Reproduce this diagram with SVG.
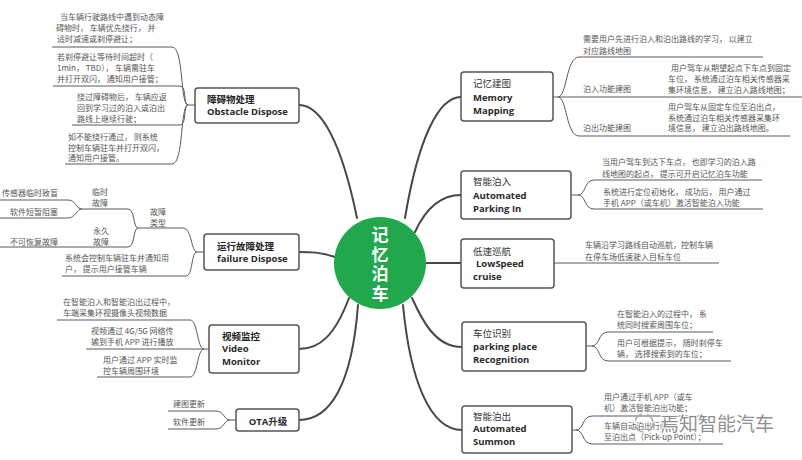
<svg xmlns="http://www.w3.org/2000/svg" width="802" height="460" viewBox="0 0 802 460">
<style>
.bg{fill:#ffffff}
.box{fill:#ffffff;stroke:#565656;stroke-width:1.5}
.main{fill:none;stroke:#474747;stroke-width:2;stroke-linecap:round}
.sub{fill:none;stroke:#5a5a5a;stroke-width:1}
.tc{font-family:"Noto Sans CJK SC","Liberation Sans",sans-serif;font-size:9.5px;fill:#333}
.tcb{font-family:"Noto Sans CJK SC","Liberation Sans",sans-serif;font-size:9.5px;fill:#222;font-weight:bold}
.te{font-family:"Open Sans","Liberation Sans","Noto Sans CJK SC",sans-serif;font-size:9.5px;font-weight:bold;fill:#2a2a2a}
.d{font-family:"Noto Sans CJK SC","Liberation Sans",sans-serif;font-size:8px;fill:#555}
.ctr{font-family:"Noto Sans CJK SC",sans-serif;font-size:17px;font-weight:bold;fill:#ffffff;writing-mode:vertical-rl;letter-spacing:2.5px}
.wm{font-family:"Noto Sans CJK SC",sans-serif;font-size:19px;fill:#858585;stroke:#ffffff;stroke-width:2.5px;paint-order:stroke;opacity:0.9}
</style>
<rect class="bg" x="0" y="0" width="802" height="460"/>

<g id="connectors">
  <path class="main" d="M299,105 C322,105 342,145 357,218"/>
  <path class="main" d="M461,97 C438,97 418,140 405,218"/>
  <path class="main" d="M461,195 C440,195 425,210 415,232"/>
  <path class="main" d="M425,263 L461,263"/>
  <path class="main" d="M412,298 C422,320 435,347 462,347"/>
  <path class="main" d="M403,305 C410,380 430,430 462,430"/>
  <path class="main" d="M335,257 C320,252 310,252 299,252"/>
  <path class="main" d="M349,298 C335,335 320,349 299,349"/>
  <path class="main" d="M358,305 C352,385 330,420 299,420"/>
  <path class="sub" d="M553,97 L802,97"/>
  <path class="sub" d="M558,97 C567,97 566,57 579,57 L763,57"/>
  <path class="sub" d="M558,97 C567,97 566,136 579,136 L790,136"/>
  <path class="sub" d="M571,195 L578,195 C586,195 584,180 594,180 L762,180"/>
  <path class="sub" d="M578,195 C586,195 584,209 594,209 L763,209"/>
  <path class="sub" d="M554,263 L719,263"/>
  <path class="sub" d="M586,346 L592,346 C600,346 598,332 608,332 L713,332"/>
  <path class="sub" d="M592,346 C600,346 598,361 608,361 L731,361"/>
  <path class="sub" d="M572,430 L576,430 C584,430 582,416 592,416 L705,416"/>
  <path class="sub" d="M576,430 C584,430 582,444 592,444 L723,444"/>
  <path class="sub" d="M195,105 L188,105"/>
  <path class="sub" d="M188,105 C180,105 184,47 172,47 L52,47"/>
  <path class="sub" d="M188,105 C183,105 187,86 180,86 L53,86"/>
  <path class="sub" d="M188,105 C183,105 187,125 180,125 L72,125"/>
  <path class="sub" d="M188,105 C180,105 184,164 172,164 L65,164"/>
  <path class="sub" d="M204,252 L197,252"/>
  <path class="sub" d="M197,252 C191,252 192,228 183,228 L138,228"/>
  <path class="sub" d="M197,252 C191,252 193,276 186,276 L62,276"/>
  <path class="sub" d="M138,228 C133,228 135,209 128,209 L82,209"/>
  <path class="sub" d="M138,228 C133,228 135,247 128,247 L0,247"/>
  <path class="sub" d="M82,209 C76,209 76,200 68,200 L0,200"/>
  <path class="sub" d="M82,209 C76,209 76,218 68,218 L0,218"/>
  <path class="sub" d="M209,349 L86,349"/>
  <path class="sub" d="M204,349 C197,349 198,320 190,320 L57,320"/>
  <path class="sub" d="M204,349 C197,349 198,377 190,377 L97,377"/>
  <path class="sub" d="M236,420 L230,420"/>
  <path class="sub" d="M230,420 C224,420 224,411 216,411 L168,411"/>
  <path class="sub" d="M230,420 C224,420 224,429 216,429 L168,429"/>
</g>

<g id="node-center">
  <circle cx="380" cy="263" r="46" fill="#21a84d"/>
  <text class="ctr" x="380" y="226.5">记忆泊车</text>
</g>

<g id="node-memory">
  <rect class="box" x="461" y="72" width="92" height="49" rx="3"/>
  <text class="tc" x="473" y="86.5">记忆建图</text>
  <text class="te" x="473" y="100.5">Memory</text>
  <text class="te" x="473" y="113.5">Mapping</text>
</g>
<g id="memory-details">
  <text class="d" x="583" y="42">需要用户先进行泊入和泊出路线的学习， 以建立</text>
  <text class="d" x="583" y="54">对应路线地图</text>
  <text class="d" x="583" y="92">泊入功能建图</text>
  <text class="d" x="671" y="70.5">用户驾车从期望起点下车点到固定</text>
  <text class="d" x="668" y="82">车位， 系统通过泊车相关传感器采</text>
  <text class="d" x="668" y="93">集环境信息， 建立泊入路线地图；</text>
  <text class="d" x="583" y="131">泊出功能建图</text>
  <text class="d" x="668" y="110">用户驾车从固定车位至泊出点，</text>
  <text class="d" x="668" y="120.5">系统通过泊车相关传感器采集环</text>
  <text class="d" x="668" y="131">境信息， 建立泊出路线地图。</text>
</g>

<g id="node-parkin">
  <rect class="box" x="461" y="171" width="110" height="48" rx="3"/>
  <text class="tc" x="473" y="184.5">智能泊入</text>
  <text class="te" x="473" y="198.5">Automated</text>
  <text class="te" x="473" y="211.5">Parking In</text>
</g>
<g id="parkin-details">
  <text class="d" x="602" y="165">当用户驾车到达下车点， 也即学习的泊入路</text>
  <text class="d" x="602" y="176.5">线地图的起点， 提示可开启记忆泊车功能</text>
  <text class="d" x="603" y="194.5">系统进行定位初始化， 成功后， 用户通过</text>
  <text class="d" x="603" y="205.5">手机 APP（或车机）激活智能泊入功能</text>
</g>

<g id="node-lowspeed">
  <rect class="box" x="461" y="239" width="93" height="49" rx="3"/>
  <text class="tc" x="473" y="254.5">低速巡航</text>
  <text class="te" x="476" y="266.5">LowSpeed</text>
  <text class="te" x="473" y="279.5">cruise</text>
</g>
<g id="lowspeed-details">
  <text class="d" x="585" y="248">车辆沿学习路线自动巡航，控制车辆</text>
  <text class="d" x="585" y="259.5">在停车场低速驶入目标车位</text>
</g>

<g id="node-recognition">
  <rect class="box" x="462" y="322" width="124" height="49" rx="3"/>
  <text class="tc" x="473" y="336.5">车位识别</text>
  <text class="te" x="473" y="350">parking place</text>
  <text class="te" x="473" y="362.5">Recognition</text>
</g>
<g id="recognition-details">
  <text class="d" x="617" y="317">在智能泊入的过程中， 系</text>
  <text class="d" x="617" y="328">统同时搜索周围车位；</text>
  <text class="d" x="617" y="346">用户可根据提示， 随时刹停车</text>
  <text class="d" x="617" y="357">辆， 选择搜索到的车位；</text>
</g>

<g id="node-summon">
  <rect class="box" x="462" y="406" width="110" height="47" rx="3"/>
  <text class="tc" x="473" y="419.5">智能泊出</text>
  <text class="te" x="473" y="432">Automated</text>
  <text class="te" x="473" y="445">Summon</text>
</g>
<g id="summon-details">
  <text class="d" x="604" y="400">用户通过手机 APP（或车</text>
  <text class="d" x="604" y="411">机）激活智能泊出功能；</text>
  <text class="d" x="604" y="429">车辆自动泊出行驶</text>
  <text class="d" x="604" y="440">至泊出点（Pick-up Point）；</text>
</g>

<g id="node-obstacle">
  <rect class="box" x="195" y="88" width="104" height="35" rx="3"/>
  <text class="tcb" x="207" y="102.5">障碍物处理</text>
  <text class="te" x="207" y="114.5">Obstacle Dispose</text>
</g>
<g id="obstacle-details">
  <text class="d" x="60" y="20">当车辆行驶路线中遇到动态障</text>
  <text class="d" x="56" y="31">碍物时， 车辆优先绕行， 并</text>
  <text class="d" x="57" y="42">适时减速或刹停避让；</text>
  <text class="d" x="57" y="60">若刹停避让等待时间超时（</text>
  <text class="d" x="57" y="71">1min， TBD）， 车辆需驻车</text>
  <text class="d" x="57" y="82">并打开双闪， 通知用户接管；</text>
  <text class="d" x="77" y="100">绕过障碍物后， 车辆应返</text>
  <text class="d" x="77" y="111">回到学习过的泊入或泊出</text>
  <text class="d" x="77" y="122">路线上继续行驶；</text>
  <text class="d" x="68" y="140">如不能绕行通过， 则系统</text>
  <text class="d" x="68" y="150.5">控制车辆驻车并打开双闪，</text>
  <text class="d" x="68" y="161">通知用户接管。</text>
</g>

<g id="node-failure">
  <rect class="box" x="204" y="234" width="95" height="36" rx="3"/>
  <text class="tcb" x="217" y="249.5">运行故障处理</text>
  <text class="te" x="217" y="261.5">failure Dispose</text>
</g>
<g id="failure-details">
  <text class="d" x="150" y="215">故障</text>
  <text class="d" x="150" y="225.5">类型</text>
  <text class="d" x="92" y="195">临时</text>
  <text class="d" x="92" y="206">故障</text>
  <text class="d" x="2" y="196">传感器临时致盲</text>
  <text class="d" x="10" y="215">软件短暂阻塞</text>
  <text class="d" x="93" y="234">永久</text>
  <text class="d" x="93" y="244.5">故障</text>
  <text class="d" x="10" y="244.5">不可恢复故障</text>
  <text class="d" x="65" y="261">系统会控制车辆驻车并通知用</text>
  <text class="d" x="65" y="272">户， 提示用户接管车辆</text>
</g>

<g id="node-video">
  <rect class="box" x="209" y="325" width="90" height="48" rx="3"/>
  <text class="tcb" x="222" y="339.5">视频监控</text>
  <text class="te" x="222" y="351.5">Video</text>
  <text class="te" x="222" y="365">Monitor</text>
</g>
<g id="video-details">
  <text class="d" x="63" y="305">在智能泊入和智能泊出过程中，</text>
  <text class="d" x="63" y="316">车端采集环视摄像头视频数据</text>
  <text class="d" x="91" y="334">视频通过 4G/5G 网络传</text>
  <text class="d" x="91" y="345">输到手机 APP 进行播放</text>
  <text class="d" x="103" y="363">用户通过 APP 实时监</text>
  <text class="d" x="103" y="374">控车辆周围环境</text>
</g>

<g id="node-ota">
  <rect class="box" x="236" y="409" width="63" height="22" rx="3"/>
  <text class="te" x="268" y="424.5" text-anchor="middle">OTA升级</text>
</g>
<g id="ota-details">
  <text class="d" x="173" y="407">建图更新</text>
  <text class="d" x="173" y="425">软件更新</text>
</g>

<g id="watermark">
  <circle cx="644" cy="423" r="9" fill="none" stroke="#aaaaaa" stroke-width="1.5" stroke-dasharray="10 5"/>
  <text class="wm" x="660" y="431">焉知智能汽车</text>
</g>
</svg>
